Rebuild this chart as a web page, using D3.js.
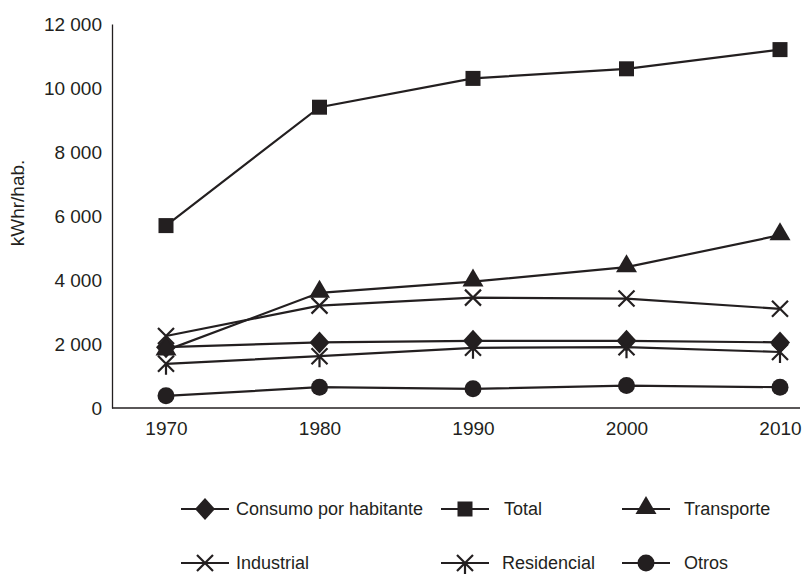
<!DOCTYPE html>
<html>
<head>
<meta charset="utf-8">
<script src="https://cdn.jsdelivr.net/npm/d3@7"></script>
<style>
  html, body { margin: 0; padding: 0; background: #fff; }
  svg text { font-family: "Liberation Sans", Arial, sans-serif; fill: #231f20; }
</style>
</head>
<body>
<svg id="chart" width="804" height="575"></svg>
<script>
const years = [1970, 1980, 1990, 2000, 2010];
const yTicks = [0, 2000, 4000, 6000, 8000, 10000, 12000];
const yTitle = "kWhr/hab.";

const consumo     = [1900, 2050, 2100, 2100, 2050];
const total       = [5700, 9400, 10300, 10600, 11200];
const transporte  = [1800, 3600, 3950, 4400, 5400];
const industrial  = [2250, 3200, 3450, 3420, 3100];
const residencial = [1380, 1620, 1880, 1900, 1750];
const otros       = [380, 650, 600, 700, 650];

const seriesNames = ["Consumo por habitante", "Total", "Transporte", "Industrial", "Residencial", "Otros"];
const seriesValues = [consumo, total, transporte, industrial, residencial, otros];
const seriesSymbols = ["diamond", "square", "triangle", "x", "asterisk", "circle"];

const ink = "#231f20";
const svg = d3.select("#chart");

const x = d3.scaleLinear().domain([1970, 2010]).range([166, 780]);
const y = d3.scaleLinear().domain([0, 12000]).range([408, 24]);

// axes
const fmt = v => v === 0 ? "0" : d3.format(",")(v).replace(/,/g, " ");
const yAxis = d3.axisLeft(y).tickValues(yTicks).tickSize(0).tickPadding(10).tickFormat(fmt);
const gy = svg.append("g").attr("transform", "translate(112,0)").call(yAxis);
gy.select(".domain").attr("stroke", ink).attr("stroke-width", 1.3);
gy.selectAll("text").style("font-size", "19px").style("font-family", "'Liberation Sans', Arial, sans-serif").attr("fill", ink);

const xAxis = d3.axisBottom(x).tickValues(years).tickSize(0).tickPadding(14).tickFormat(d3.format("d"));
const gx = svg.append("g").attr("transform", "translate(0,408)").call(xAxis);
gx.select(".domain").attr("d", "M112,0H800").attr("stroke", ink).attr("stroke-width", 1.3);
gx.selectAll("text").style("font-size", "19px").style("font-family", "'Liberation Sans', Arial, sans-serif").attr("fill", ink);

svg.append("text")
  .attr("transform", "translate(24,203) rotate(-90)")
  .attr("text-anchor", "middle")
  .style("font-size", "19px")
  .text(yTitle);

// marker drawing
function marker(g, type, cx, cy) {
  if (type === "diamond") {
    g.append("path").attr("d", `M${cx},${cy-11}L${cx+10},${cy}L${cx},${cy+11}L${cx-10},${cy}Z`).attr("fill", ink);
  } else if (type === "square") {
    g.append("rect").attr("x", cx-7.5).attr("y", cy-7.5).attr("width", 15).attr("height", 15).attr("fill", ink);
  } else if (type === "triangle") {
    g.append("path").attr("d", `M${cx},${cy-13}L${cx+10.5},${cy+5}L${cx-10.5},${cy+5}Z`).attr("fill", ink);
  } else if (type === "circle") {
    g.append("circle").attr("cx", cx).attr("cy", cy).attr("r", 8.5).attr("fill", ink);
  } else if (type === "x") {
    g.append("path").attr("d", `M${cx-8},${cy-8}L${cx+8},${cy+8}M${cx-8},${cy+8}L${cx+8},${cy-8}`)
      .attr("stroke", ink).attr("stroke-width", 2.2).attr("fill", "none");
  } else if (type === "asterisk") {
    g.append("path").attr("d", `M${cx-8},${cy-8}L${cx+8},${cy+8}M${cx-8},${cy+8}L${cx+8},${cy-8}M${cx},${cy}L${cx},${cy+11}`)
      .attr("stroke", ink).attr("stroke-width", 2.2).attr("fill", "none");
  }
}

const line = d3.line().x((d, i) => x(years[i])).y(d => y(d));
const plot = svg.append("g");
seriesValues.forEach((vals) => {
  plot.append("path").datum(vals).attr("d", line)
    .attr("fill", "none").attr("stroke", ink).attr("stroke-width", 2.2);
});
seriesValues.forEach((vals, si) => {
  const g = plot.append("g");
  vals.forEach((v, i) => marker(g, seriesSymbols[si], x(years[i]), y(v)));
});

// legend
const legendSym = [[205, 509], [465, 509], [646, 509], [205, 563], [465, 563], [646, 563]];
const legendTextX = [236, 504, 684, 236, 502, 684];
const legend = svg.append("g");
seriesNames.forEach((name, si) => {
  const [cx, cy] = legendSym[si];
  const g = legend.append("g");
  g.append("line").attr("x1", cx-24).attr("x2", cx+24).attr("y1", cy).attr("y2", cy)
    .attr("stroke", ink).attr("stroke-width", 2.2);
  marker(g, seriesSymbols[si], cx, cy);
  g.append("text").attr("x", legendTextX[si]).attr("y", cy).attr("dy", "0.35em")
    .style("font-size", "18px").text(name);
});
</script>
</body>
</html>
